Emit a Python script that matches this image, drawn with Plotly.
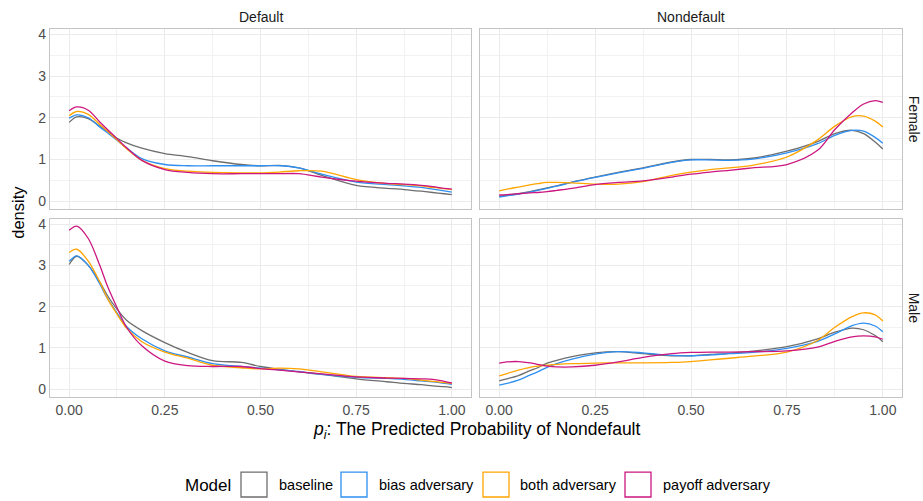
import plotly.graph_objects as go

# ---------------- data ----------------
x_grid = [0, 0.02, 0.05, 0.08, 0.1, 0.125, 0.15, 0.19, 0.25, 0.31, 0.375, 0.45,
          0.5, 0.55, 0.6, 0.66, 0.75, 0.83, 0.875, 0.92, 0.95, 0.98, 1.0]

models = ["baseline", "bias adversary", "both adversary", "payoff adversary"]
col_labels = ["Default", "Nondefault"]
row_labels = ["Female", "Male"]

# Default / Female
df_baseline = [1.89, 2.02, 1.98, 1.80, 1.68, 1.51, 1.40, 1.27, 1.14, 1.07, 0.97, 0.88,
               0.85, 0.86, 0.80, 0.62, 0.38, 0.31, 0.28, 0.24, 0.21, 0.18, 0.16]
df_bias = [1.99, 2.07, 2.00, 1.78, 1.64, 1.46, 1.28, 1.02, 0.88, 0.85, 0.85, 0.85,
           0.85, 0.85, 0.80, 0.65, 0.46, 0.40, 0.37, 0.33, 0.29, 0.25, 0.22]
df_both = [2.05, 2.15, 2.08, 1.84, 1.68, 1.47, 1.26, 0.98, 0.78, 0.72, 0.69, 0.68,
           0.68, 0.70, 0.73, 0.72, 0.52, 0.42, 0.40, 0.37, 0.33, 0.30, 0.28]
df_payoff = [2.17, 2.26, 2.18, 1.90, 1.72, 1.50, 1.28, 0.98, 0.76, 0.69, 0.66, 0.66,
             0.66, 0.66, 0.66, 0.58, 0.48, 0.43, 0.41, 0.38, 0.35, 0.31, 0.29]

# Nondefault / Female
nf_baseline = [0.12, 0.14, 0.18, 0.23, 0.27, 0.32, 0.37, 0.46, 0.58, 0.69, 0.80, 0.94,
               1.00, 1.00, 0.99, 1.03, 1.20, 1.43, 1.62, 1.70, 1.62, 1.42, 1.25]
nf_bias = [0.10, 0.13, 0.17, 0.22, 0.26, 0.31, 0.36, 0.45, 0.57, 0.68, 0.79, 0.93,
           0.99, 0.99, 0.98, 1.01, 1.16, 1.38, 1.58, 1.70, 1.68, 1.53, 1.39]
nf_both = [0.25, 0.29, 0.34, 0.39, 0.42, 0.45, 0.45, 0.44, 0.41, 0.41, 0.47, 0.62,
           0.70, 0.76, 0.80, 0.86, 1.06, 1.47, 1.80, 2.03, 2.04, 1.92, 1.78]
nf_payoff = [0.15, 0.16, 0.18, 0.20, 0.21, 0.23, 0.26, 0.31, 0.40, 0.45, 0.49, 0.58,
             0.65, 0.70, 0.74, 0.80, 0.88, 1.22, 1.72, 2.12, 2.33, 2.41, 2.37]

# Default / Male
dm_baseline = [3.02, 3.22, 3.00, 2.60, 2.27, 1.94, 1.67, 1.42, 1.13, 0.89, 0.69, 0.65,
               0.55, 0.48, 0.42, 0.36, 0.25, 0.18, 0.14, 0.11, 0.08, 0.06, 0.04]
dm_bias = [3.10, 3.23, 3.00, 2.55, 2.20, 1.85, 1.52, 1.22, 0.93, 0.78, 0.62, 0.55,
           0.51, 0.47, 0.43, 0.36, 0.29, 0.26, 0.24, 0.20, 0.18, 0.14, 0.12]
dm_both = [3.31, 3.39, 3.10, 2.60, 2.20, 1.82, 1.48, 1.15, 0.90, 0.75, 0.58, 0.52,
           0.49, 0.51, 0.49, 0.42, 0.31, 0.28, 0.26, 0.22, 0.19, 0.16, 0.14]
dm_payoff = [3.85, 3.95, 3.65, 3.00, 2.50, 1.98, 1.50, 1.05, 0.68, 0.57, 0.55, 0.55,
             0.50, 0.46, 0.42, 0.37, 0.30, 0.27, 0.26, 0.25, 0.24, 0.19, 0.15]

# Nondefault / Male
nm_baseline = [0.20, 0.25, 0.33, 0.45, 0.52, 0.63, 0.70, 0.79, 0.88, 0.91, 0.86, 0.81,
               0.81, 0.84, 0.87, 0.92, 1.03, 1.22, 1.38, 1.48, 1.44, 1.30, 1.15]
nm_bias = [0.10, 0.14, 0.22, 0.34, 0.42, 0.53, 0.62, 0.73, 0.85, 0.91, 0.88, 0.82,
           0.81, 0.83, 0.86, 0.89, 0.99, 1.16, 1.34, 1.54, 1.60, 1.53, 1.39]
nm_both = [0.32, 0.38, 0.46, 0.53, 0.56, 0.58, 0.60, 0.62, 0.63, 0.64, 0.64, 0.65,
           0.67, 0.71, 0.75, 0.80, 0.90, 1.18, 1.50, 1.76, 1.85, 1.80, 1.65]
nm_payoff = [0.63, 0.66, 0.67, 0.64, 0.60, 0.56, 0.54, 0.54, 0.58, 0.66, 0.77, 0.86,
             0.89, 0.90, 0.90, 0.91, 0.93, 1.02, 1.16, 1.27, 1.29, 1.27, 1.21]

x_ticks = [0, 0.25, 0.5, 0.75, 1.0]
x_tick_labels = ["0.00", "0.25", "0.50", "0.75", "1.00"]
y_ticks = [0, 1, 2, 3, 4]
y_tick_labels = ["0", "1", "2", "3", "4"]

panels = {
    (0, 0): [df_baseline, df_bias, df_both, df_payoff],
    (0, 1): [nf_baseline, nf_bias, nf_both, nf_payoff],
    (1, 0): [dm_baseline, dm_bias, dm_both, dm_payoff],
    (1, 1): [nm_baseline, nm_bias, nm_both, nm_payoff],
}

# ---------------- styling ----------------
W, H = 923, 501
colors = ["#6E6E6E", "#2F8FF0", "#FFA500", "#CC1680"]
FONT = "Liberation Sans, Arial, sans-serif"

def px_x(p):
    return p / W

def px_y(p):
    return 1 - p / H

x_domains = [[px_x(50), px_x(471)], [px_x(480), px_x(902)]]
y_domains = [[px_y(207), px_y(26)], [px_y(396), px_y(217)]]

fig = go.Figure()

for (r, c), series in panels.items():
    idx = r * 2 + c + 1
    xa = "x" if idx == 1 else f"x{idx}"
    ya = "y" if idx == 1 else f"y{idx}"
    for m, vals, colr in zip(models, series, colors):
        fig.add_trace(go.Scatter(
            x=x_grid, y=vals, mode="lines", name=m,
            line=dict(color=colr, width=1.3, shape="spline", smoothing=0.9),
            xaxis=xa, yaxis=ya, showlegend=False, hoverinfo="skip"))

    xkey = "xaxis" if idx == 1 else f"xaxis{idx}"
    ykey = "yaxis" if idx == 1 else f"yaxis{idx}"
    fig.layout[xkey] = dict(
        domain=x_domains[c], anchor=ya, range=[-0.05, 1.05],
        tickvals=x_ticks, ticktext=x_tick_labels,
        showticklabels=(r == 1), ticks="",
        showgrid=True, gridcolor="#EBEBEB", gridwidth=1.1,
        minor=dict(dtick=0.125, showgrid=True, gridcolor="#F2F2F2", gridwidth=0.6, tick0=0.125),
        zeroline=False, showline=True, linecolor="#C4C4C4", linewidth=1.2, mirror=True,
        tickfont=dict(family=FONT, size=14, color="#4D4D4D"), fixedrange=True)
    fig.layout[ykey] = dict(
        domain=y_domains[r], anchor=xa, range=[-0.18, 4.13],
        tickvals=y_ticks, ticktext=y_tick_labels,
        showticklabels=(c == 0), ticks="",
        showgrid=True, gridcolor="#EBEBEB", gridwidth=1.1,
        minor=dict(dtick=0.5, tick0=0.5, showgrid=True, gridcolor="#F2F2F2", gridwidth=0.6),
        zeroline=False, showline=True, linecolor="#C4C4C4", linewidth=1.2, mirror=True,
        tickfont=dict(family=FONT, size=14, color="#4D4D4D"), fixedrange=True)

annotations = []

def label(text, xp, yp, size, color="#000000", angle=0, xanchor="center"):
    annotations.append(dict(text=text, x=px_x(xp), y=px_y(yp), showarrow=False,
                            xref="paper", yref="paper", xanchor=xanchor, yanchor="middle",
                            textangle=angle, font=dict(family=FONT, size=size, color=color)))

# strip labels
label(col_labels[0], 260.5, 14, 14, "#1A1A1A")
label(col_labels[1], 691, 14, 14, "#1A1A1A")
label(row_labels[0], 914, 116.5, 14, "#1A1A1A", angle=90)
label(row_labels[1], 914, 306.5, 14, "#1A1A1A", angle=90)
# axis titles
label("<i>p<sub>i</sub></i>: The Predicted Probability of Nondefault", 476, 430, 17.5)
label("density", 18, 211, 16.5, angle=-90)

# legend (ggplot-style outline keys)
shapes = []
label("Model", 183, 485, 17, xanchor="left")
key_left = [241, 341, 483, 625]
text_left = [277, 377, 518, 661]
for m, colr, kl, tl in zip(models, colors, key_left, text_left):
    shapes.append(dict(type="rect", xref="paper", yref="paper",
                       x0=px_x(kl), x1=px_x(kl + 26), y0=px_y(472), y1=px_y(497),
                       line=dict(color=colr, width=1.3), fillcolor="white"))
    label(m, tl, 485, 14.5, xanchor="left")

fig.update_layout(
    width=W, height=H, margin=dict(l=0, r=0, t=0, b=0),
    paper_bgcolor="white", plot_bgcolor="white",
    annotations=annotations, shapes=shapes, showlegend=False,
    font=dict(family=FONT))

fig.write_html("out.html", config={"displayModeBar": False},
               post_script="document.body.style.margin='0px';")
